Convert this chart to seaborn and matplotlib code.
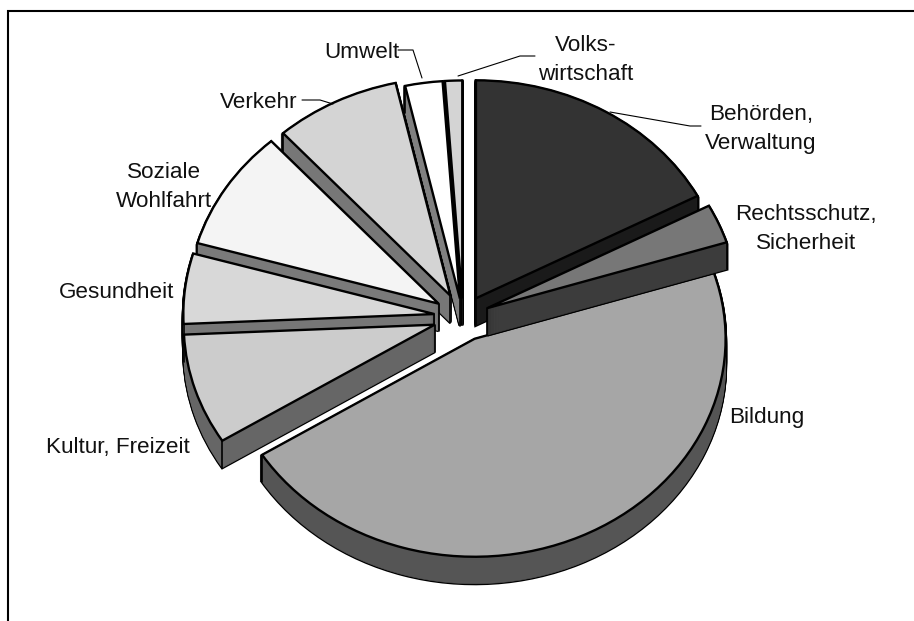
import math
import matplotlib
matplotlib.use("Agg")
import matplotlib.pyplot as plt
from matplotlib.patches import Wedge
import seaborn as sns

# --- DATA ---
categories = ["Behörden,\nVerwaltung", "Rechtsschutz,\nSicherheit", "Bildung", "Kultur, Freizeit",
              "Gesundheit", "Soziale\nWohlfahrt", "Verkehr", "Umwelt", "Volks-\nwirtschaft"]
shares = [17.2, 2.9, 45.9, 8.2, 5.2, 8.9, 8.1, 2.4, 1.1]
explode = [0.10, 0.105, 0.11, 0.118, 0.115, 0.115, 0.11, 0.085, 0.085]
top_colors = ["#333333", "#777777", "#a6a6a6", "#cccccc", "#d8d8d8", "#f4f4f4", "#d4d4d4", "#ffffff", "#d4d4d4"]
side_colors = ["#1a1a1a", "#3c3c3c", "#555555", "#666666", "#777777", "#7a7a7a", "#777777", "#808080", "#6a6a6a"]

# label anchors in pixels
label_pos = [(761, 129), (806, 229), (767, 417), (118, 447),
             (117, 292), (164, 187), (259, 103), (362, 53), (586, 60)]
leaders = [[(610, 112), (690, 126), (701, 126)],
           [(398, 50), (413, 50), (422, 78)],
           [(458, 76), (520, 56), (535, 56)],
           [(302, 100), (320, 100), (333, 104)]]

# --- GEOMETRY ---
W, H = 914, 621
CX, CY = 463, 317      # pie centre, px
RX, RY = 251, 218      # pixels per data unit
DEPTH = 27 / RY
LAYERS = 27
draw_order = [8, 7, 6, 5, 4, 3, 0, 2, 1]

sns.set_theme(style="white")
plt.rcParams["font.family"] = ["Liberation Sans", "DejaVu Sans"]

fig = plt.figure(figsize=(W / 100, H / 100), dpi=100, facecolor="white")
ax = fig.add_axes([0, 0, 1, 1])

wedges, _ = ax.pie(shares, explode=explode, startangle=90, counterclock=False, colors=top_colors,
                   wedgeprops={"edgecolor": "black", "linewidth": 1.7, "joinstyle": "miter"})
ax.set_aspect("auto")

for z, i in enumerate(draw_order):
    w = wedges[i]
    cx, cy = w.center
    offsets = [DEPTH * k / LAYERS for k in range(LAYERS, 0, -1)]
    # black silhouette first, then the side colour on top of it
    for d in offsets:
        ax.add_patch(Wedge((cx, cy - d), w.r, w.theta1, w.theta2, facecolor="black", edgecolor="black",
                           linewidth=2.2, zorder=10 + 3 * z))
    for d in offsets:
        ax.add_patch(Wedge((cx, cy - d), w.r, w.theta1, w.theta2, facecolor=side_colors[i],
                           edgecolor=side_colors[i], linewidth=0.4, zorder=10.5 + 3 * z))
    # vertical edges at the corners of the slice
    corners = [(cx, cy)]
    for t in (w.theta1, w.theta2):
        corners.append((cx + w.r * math.cos(math.radians(t)), cy + w.r * math.sin(math.radians(t))))
    for px, py in corners:
        ax.plot([px, px], [py, py - DEPTH], color="black", lw=1.2, zorder=10.7 + 3 * z)
    w.set_zorder(11 + 3 * z)
ax.set_xlim(-CX / RX, (W - CX) / RX)
ax.set_ylim(-(H - CY) / RY, CY / RY)

ov = fig.add_axes([0, 0, 1, 1], facecolor="none", zorder=5)
ov.set_xlim(0, W)
ov.set_ylim(H, 0)
ov.axis("off")

# chart frame: only the left and top edges fall inside the image
ov.plot([8, 8, W], [H, 11, 11], color="black", lw=1.5, solid_joinstyle="miter")

for name, (x, y) in zip(categories, label_pos):
    ov.text(x, y, name, ha="center", va="center", fontsize=16.2, color="#111111", linespacing=1.5)
for line in leaders:
    ov.plot([p[0] for p in line], [p[1] for p in line], color="black", lw=0.8)

fig.savefig("out.png", dpi=100)
